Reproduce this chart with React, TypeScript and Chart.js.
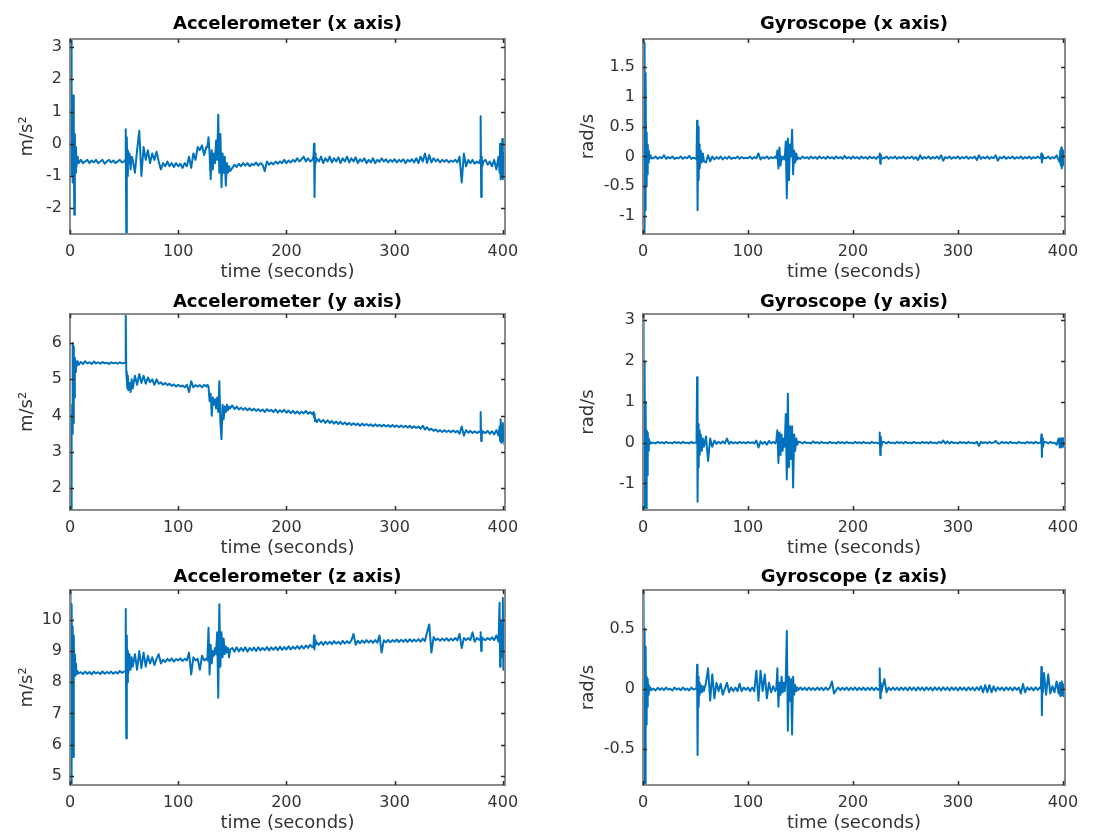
import React, { useEffect, useRef } from "react";
import { Chart, registerables } from "chart.js";

Chart.register(...registerables);

// ---------------- DATA ----------------
// time stamps (seconds) shared by all six sensor traces
const TIME = [
  0, 0.5, 1, 1.5, 2, 2.5, 3, 3.5, 4, 4.5, 5, 5.5, 6, 7, 8,
  10, 12, 14, 16, 18, 20, 22, 24, 26, 28, 30, 32, 34, 36, 38, 40, 42, 44, 46, 48, 50,
  51, 51.5, 52, 52.5, 53, 53.5, 54, 55, 56, 57, 58,
  60, 62, 64, 66, 68, 70, 72, 74, 76, 78, 80, 82, 84, 86, 88, 90, 92, 94, 96, 98, 100, 102, 104, 106, 108, 110, 112, 114, 116, 118, 120, 122, 124, 126,
  127, 128, 129, 130, 131, 132, 133, 134, 135, 136, 137, 138, 139, 140, 141, 142, 143, 144, 145, 146, 147, 148,
  150, 152, 154, 156, 158, 160, 162, 164, 166, 168, 170, 172, 174, 176, 178, 180, 182, 184, 186, 188, 190, 192, 194, 196, 198, 200, 202, 204, 206, 208, 210, 212, 214, 216, 218, 220, 222, 224,
  225, 225.5, 226, 226.5, 227, 228,
  230, 232, 234, 236, 238, 240, 242, 244, 246, 248, 250, 252, 254, 256, 258, 260, 262, 264, 266, 268, 270, 272, 274, 276, 278, 280, 282, 284, 286, 288, 290, 292, 294, 296, 298, 300, 302, 304, 306, 308, 310, 312, 314, 316, 318, 320, 322, 324, 326, 328, 330, 332, 334, 336, 338, 340, 342, 344, 346, 348, 350, 352, 354, 356, 358, 360, 362, 364, 366, 368, 370, 372, 374, 376, 378,
  379, 379.5, 380, 380.5, 381, 382,
  384, 386, 388, 390, 392, 394, 396,
  397, 397.5, 398, 398.5, 399, 399.5, 400, 400.5, 401, 401.5, 402,
];

// Accelerometer x axis (m/s^2)
const ACC_X = [
  -0.5, -1.0, 3.2, -0.8, 0.5, -1.2, 1.5, -0.2, -2.2, 0.3, -0.9, -0.1, -0.7, -0.4, -0.6,
  -0.5, -0.6, -0.55, -0.5, -0.6, -0.52, -0.58, -0.5, -0.6, -0.55, -0.5, -0.62, -0.55, -0.5, -0.58, -0.52, -0.6, -0.55, -0.5, -0.58, -0.55,
  -0.5, 0.45, -2.8, 0.2, -1.0, -0.2, -0.6, -0.3, -0.8, -0.4, -0.5,
  -0.9, -0.2, 0.4, -1.0, -0.1, -0.5, -0.2, -0.6, -0.3, -0.5, -0.25, -0.55, -0.8, -0.6, -0.7, -0.55, -0.7, -0.6, -0.72, -0.6, -0.7, -0.62, -0.75, -0.6, -0.7, -0.4, -0.75, -0.3, -0.5, -0.1, -0.2, -0.05, -0.35, -0.1,
  -0.1, 0.2, -0.3, -1.1, -0.2, -0.8, -0.3, -0.6, 0.1, -0.5, 0.9, -0.9, 0.3, -1.35, -0.3, -0.9, -0.4, -1.3, -0.6, -0.9, -0.7, -0.85,
  -0.75, -0.65, -0.72, -0.62, -0.7, -0.6, -0.68, -0.6, -0.7, -0.62, -0.66, -0.58, -0.68, -0.6, -0.65, -0.85, -0.55, -0.65, -0.58, -0.64, -0.55, -0.62, -0.55, -0.6, -0.5, -0.6, -0.52, -0.58, -0.5, -0.56, -0.45, -0.55, -0.48, -0.4, -0.55, -0.45, -0.55, -0.5,
  -0.4, 0.0, -1.65, -0.3, -0.6, -0.45,
  -0.55, -0.4, -0.6, -0.45, -0.55, -0.4, -0.58, -0.45, -0.55, -0.42,
  -0.6, -0.45, -0.55, -0.4, -0.58, -0.45, -0.55, -0.42, -0.6, -0.48,
  -0.55, -0.45, -0.6, -0.5, -0.58, -0.45, -0.6, -0.5, -0.56, -0.45,
  -0.55, -0.48, -0.58, -0.5, -0.56, -0.48, -0.58, -0.5, -0.56, -0.48,
  -0.6, -0.5, -0.55, -0.48, -0.58, -0.45, -0.6, -0.4, -0.55, -0.3,
  -0.6, -0.35, -0.58, -0.45, -0.55, -0.48, -0.58, -0.5, -0.56, -0.5,
  -0.58, -0.52, -0.56, -0.5, -0.58, -0.4, -1.2, -0.3, -0.7, -0.5,
  -0.6, -0.5, -0.62, -0.55, -0.6,
  -0.5, 0.85, -1.65, -0.4, -0.7, -0.55,
  -0.5, -0.65, -0.55, -0.7, -0.5, -0.8, -0.4,
  -0.9, 0.0, -1.1, -0.2, -1.0, 0.15, -1.1, -0.3, -0.9, -0.4, -0.7,
];

// Gyroscope x axis (rad/s)
const GYRO_X = [
  -0.3, 1.97, -1.3, 1.9, -0.9, 1.4, -0.5, 0.4, -0.3, 0.2, -0.1, 0.1, -0.05, 0.02, -0.03,
  -0.03, 0.0, -0.04, -0.01, -0.03, 0.02, -0.04, -0.01, -0.03, 0.0, -0.04, -0.02, -0.03, 0.0, -0.04, -0.01, -0.03, 0.01, -0.04, -0.02, -0.03,
  -0.05, 0.6, -0.9, 0.5, -0.4, 0.2, -0.2, 0.1, -0.1, 0.05, -0.08,
  -0.1, 0.02, -0.08, 0.0, -0.05, -0.01, -0.04, 0.0, -0.05, -0.01, -0.04, 0.0, -0.04, -0.02, -0.03, 0.0, -0.04, -0.01, -0.03, -0.02, -0.03, 0.0, -0.04, -0.01, -0.03, 0.05, -0.05, -0.01, -0.03, 0.0, -0.04, -0.01, -0.03, 0.0,
  -0.03, 0.1, -0.2, 0.15, -0.15, 0.0, -0.05, 0.0, -0.05, 0.25, -0.7, 0.3, -0.4, 0.2, 0.0, 0.45, -0.3, 0.1, -0.1, 0.05, -0.05, -0.02,
  -0.04, 0.0, -0.03, -0.01, -0.04, 0.0, -0.03, -0.01, -0.04, 0.0, -0.03, -0.01, -0.04, 0.0, -0.03, -0.01, -0.04, 0.0, -0.03, -0.01, -0.04, 0.01, -0.03, -0.01, -0.04, 0.0, -0.03, -0.01, -0.04, 0.0, -0.03, -0.01, -0.04, 0.0, -0.03, -0.01, -0.04, 0.0,
  -0.02, 0.05, -0.12, 0.03, -0.05, -0.02,
  -0.03, 0.0, -0.04, -0.01, -0.03, 0.0, -0.04, -0.01, -0.03, 0.0,
  -0.04, -0.01, -0.03, 0.0, -0.04, -0.01, -0.06, 0.02, -0.04, -0.01,
  -0.03, 0.0, -0.04, -0.01, -0.03, 0.0, -0.04, 0.02, -0.07, -0.01,
  -0.03, 0.0, -0.04, -0.01, -0.03, 0.0, -0.04, -0.01, -0.03, 0.0,
  -0.04, -0.01, -0.03, 0.0, -0.06, 0.02, -0.04, -0.01, -0.03, 0.0,
  -0.04, -0.01, -0.03, 0.02, -0.07, -0.01, -0.03, 0.0, -0.04, -0.01,
  -0.03, 0.0, -0.04, -0.01, -0.03, 0.0, -0.04, -0.01, -0.03, 0.0,
  -0.04, -0.01, -0.03, 0.0, -0.03,
  -0.02, 0.05, -0.1, 0.02, -0.04, -0.02,
  -0.03, 0.0, -0.04, -0.01, -0.03, 0.02, -0.06,
  -0.1, 0.1, -0.15, 0.15, -0.2, 0.1, -0.15, 0.05, -0.1, 0.1, -0.05,
];

// Accelerometer y axis (m/s^2)
const ACC_Y = [
  4.3, 3.6, 1.4, 4.0, 3.5, 6.0, 3.8, 5.9, 4.5, 5.6, 5.2, 5.5, 5.35, 5.5, 5.4,
  5.48, 5.42, 5.5, 5.44, 5.47, 5.42, 5.49, 5.44, 5.47, 5.43, 5.48, 5.44, 5.46, 5.42, 5.47, 5.44, 5.46, 5.43, 5.47, 5.44, 5.45,
  5.45, 6.8, 5.2, 5.0, 4.75, 5.1, 4.7, 4.9, 4.65, 5.0, 4.75,
  5.1, 4.85, 5.15, 4.9, 5.1, 4.88, 5.05, 4.92, 5.0, 4.85, 5.0, 4.88, 4.92, 4.85, 4.9, 4.84, 4.88, 4.82, 4.86, 4.8, 4.85, 4.8, 4.83, 4.78, 4.85, 4.65, 4.95, 4.78, 4.84, 4.8, 4.84, 4.78, 4.85, 4.8,
  4.85, 4.8, 4.4, 4.6, 4.0, 4.5, 4.3, 4.45, 4.2, 4.5, 4.1, 4.95, 3.8, 3.35, 4.3, 3.9, 4.25, 4.1, 4.3, 4.15, 4.25, 4.2,
  4.28, 4.18, 4.25, 4.17, 4.22, 4.16, 4.21, 4.15, 4.2, 4.14, 4.19, 4.13, 4.18, 4.12, 4.17, 4.1, 4.18, 4.12, 4.16, 4.1, 4.17, 4.08, 4.15, 4.1, 4.16, 4.08, 4.14, 4.07, 4.13, 4.06, 4.12, 4.05, 4.11, 4.06, 4.13, 4.05, 4.1, 4.04,
  4.1, 3.95, 4.05, 3.85, 3.9, 3.82,
  3.9, 3.82, 3.88, 3.8, 3.87, 3.8, 3.85, 3.78, 3.84, 3.77,
  3.83, 3.76, 3.81, 3.75, 3.8, 3.74, 3.79, 3.74, 3.78, 3.72,
  3.78, 3.73, 3.77, 3.72, 3.76, 3.71, 3.76, 3.71, 3.75, 3.7,
  3.75, 3.7, 3.74, 3.69, 3.74, 3.69, 3.73, 3.68, 3.73, 3.68,
  3.72, 3.67, 3.72, 3.66, 3.71, 3.66, 3.7, 3.64, 3.72, 3.62,
  3.68, 3.6, 3.64, 3.58, 3.62, 3.56, 3.6, 3.55, 3.6, 3.55,
  3.59, 3.54, 3.59, 3.54, 3.58, 3.5, 3.7, 3.45, 3.6, 3.53,
  3.58, 3.52, 3.57, 3.52, 3.56,
  3.55, 4.1, 3.3, 3.6, 3.5, 3.56,
  3.52, 3.58, 3.5, 3.57, 3.48, 3.6, 3.45,
  3.7, 3.3, 3.9, 3.25, 3.75, 3.35, 3.8, 3.3, 3.6, 3.2, 3.45,
];

// Gyroscope y axis (rad/s)
const GYRO_Y = [
  0.1, 3.15, -1.65, 2.0, -0.8, 1.0, -1.65, 0.3, -0.8, 0.25, -0.2, 0.1, -0.05, 0.02, -0.02,
  0.0, -0.02, 0.02, -0.01, 0.01, -0.02, 0.02, -0.01, 0.0, -0.02, 0.02, -0.01, 0.01, -0.02, 0.02, -0.01, 0.0, -0.02, 0.02, -0.01, 0.0,
  0.0, 1.6, -1.45, 0.45, -0.6, 0.3, -0.3, 0.2, -0.2, 0.1, -0.1,
  0.15, -0.45, 0.1, -0.1, 0.05, -0.03, 0.02, -0.02, 0.03, -0.02, 0.1, -0.03, 0.02, -0.02, 0.01, -0.02, 0.02, -0.01, 0.01, -0.02, 0.02, -0.01, 0.01, -0.02, 0.05, -0.12, 0.03, -0.03, 0.02, -0.05, 0.04, -0.02, 0.02, -0.02,
  0.05, 0.3, -0.5, 0.25, -0.3, 0.2, -0.2, 0.1, -0.1, 0.7, -0.9, 1.2, -0.6, 0.4, -0.4, 0.4, -1.1, 0.2, -0.2, 0.1, -0.05, 0.02,
  0.01, -0.02, 0.02, -0.01, 0.0, -0.02, 0.03, -0.01, 0.01, -0.02, 0.02, -0.01, 0.0, -0.02, 0.02, -0.01, 0.0, -0.02, 0.02, -0.01, 0.01, -0.02, 0.02, -0.01, 0.0, -0.02, 0.02, -0.01, 0.01, -0.02, 0.02, -0.01, 0.0, -0.02, 0.02, -0.01, 0.0, -0.02,
  0.0, 0.25, -0.3, 0.15, -0.1, 0.02,
  0.01, -0.02, 0.02, -0.01, 0.0, -0.02, 0.02, -0.01, 0.01, -0.02,
  0.02, -0.01, 0.0, -0.02, 0.02, -0.01, 0.0, -0.02, 0.02, -0.01,
  0.01, -0.02, 0.02, -0.01, 0.0, -0.02, 0.02, -0.01, 0.05, -0.02,
  0.03, -0.02, 0.02, -0.01, 0.0, -0.02, 0.02, -0.01, 0.01, -0.02,
  0.02, -0.01, 0.0, -0.02, 0.02, -0.08, 0.02, -0.01, 0.01, -0.02,
  0.02, -0.01, 0.0, 0.04, -0.02, -0.02, 0.02, -0.01, 0.01, -0.02,
  0.02, -0.01, 0.0, -0.02, 0.02, -0.01, 0.0, -0.02, 0.02, -0.01,
  0.01, -0.02, 0.02, -0.01, 0.0,
  0.0, 0.2, -0.35, 0.1, -0.1, 0.02,
  0.01, -0.02, 0.02, -0.01, 0.0, -0.05, 0.1,
  -0.12, 0.1, -0.1, 0.08, -0.12, 0.1, -0.08, 0.1, -0.1, 0.05, -0.05,
];

// Accelerometer z axis (m/s^2)
const ACC_Z = [
  9.2, 10.9, 4.7, 10.5, 8.0, 9.8, 5.6, 9.5, 8.2, 8.9, 8.3, 8.6, 8.25, 8.35, 8.28,
  8.32, 8.26, 8.34, 8.27, 8.33, 8.25, 8.34, 8.28, 8.32, 8.26, 8.35, 8.27, 8.33, 8.28, 8.34, 8.27, 8.33, 8.28, 8.36, 8.3, 8.34,
  8.35, 10.35, 6.2, 9.5, 8.0, 9.0, 8.3, 8.9, 8.4, 8.8, 8.5,
  8.9, 8.4, 9.0, 8.45, 8.95, 8.5, 8.85, 8.6, 8.8, 8.55, 8.75, 8.9, 8.6, 8.72, 8.65, 8.75, 8.68, 8.76, 8.66, 8.74, 8.7, 8.76, 8.68, 8.75, 8.7, 8.95, 8.25, 8.8, 8.7, 8.75, 8.4, 8.85, 8.7, 8.76,
  8.7, 9.75, 8.25, 9.2, 8.6, 9.0, 8.85, 9.1, 8.9, 9.6, 7.5, 10.5, 8.5, 9.6, 8.8, 9.4, 8.9, 9.15, 8.95, 9.1, 8.8, 9.05,
  9.1, 8.98, 9.12, 8.99, 9.1, 9.0, 9.12, 8.98, 9.1, 9.02, 9.11, 9.0, 9.12, 9.02, 9.1, 9.03, 9.13, 9.02, 9.12, 9.04, 9.13, 9.03, 9.14, 9.04, 9.13, 9.05, 9.15, 9.05, 9.14, 9.07, 9.16, 9.07, 9.17, 9.08, 9.18, 9.1, 9.2, 9.12,
  9.15, 9.5, 9.05, 9.35, 9.2, 9.28,
  9.2, 9.3, 9.2, 9.3, 9.22, 9.3, 9.22, 9.32, 9.24, 9.3,
  9.22, 9.33, 9.24, 9.32, 9.25, 9.34, 9.55, 9.2, 9.33, 9.25,
  9.34, 9.26, 9.35, 9.27, 9.34, 9.26, 9.35, 9.27, 9.5, 8.95,
  9.35, 9.28, 9.36, 9.28, 9.35, 9.3, 9.37, 9.29, 9.36, 9.3,
  9.37, 9.29, 9.38, 9.3, 9.37, 9.31, 9.38, 9.3, 9.4, 9.32,
  9.6, 9.85, 8.95, 9.45, 9.35, 9.4, 9.33, 9.4, 9.34, 9.41,
  9.33, 9.4, 9.34, 9.42, 9.34, 9.55, 9.1, 9.42, 9.35, 9.42,
  9.35, 9.6, 9.3, 9.42, 9.36,
  9.4, 9.6, 9.0, 9.45, 9.35, 9.4,
  9.35, 9.42, 9.36, 9.44, 9.35, 9.5, 9.3,
  10.55, 8.5, 10.0, 8.8, 9.8, 9.0, 10.7, 8.4, 9.6, 9.1, 9.4,
];

// Gyroscope z axis (rad/s)
const GYRO_Z = [
  0.05, 0.82, -0.8, 0.5, -0.8, 0.35, -0.3, 0.1, -0.15, 0.08, -0.05, 0.03, -0.02, 0.01, -0.01,
  0.0, -0.015, 0.008, -0.01, 0.005, -0.012, 0.01, -0.008, 0.0, -0.015, 0.01, -0.008, 0.004, -0.012, 0.01, -0.01, 0.002, -0.014, 0.01, -0.008, 0.0,
  0.0, 0.2, -0.55, 0.1, -0.15, 0.05, -0.05, 0.03, -0.03, 0.02, -0.02,
  0.05, 0.17, -0.1, 0.12, -0.08, 0.05, -0.02, 0.04, -0.05, 0.0, 0.05, -0.03, 0.01, -0.02, 0.01, -0.02, 0.04, -0.02, 0.01, -0.01, 0.01, -0.02, 0.01, -0.02, 0.15, -0.1, 0.15, -0.02, 0.12, -0.08, 0.05, -0.03, 0.02, -0.02,
  0.0, 0.17, -0.15, 0.05, -0.05, 0.1, -0.03, 0.05, -0.02, 0.08, 0.48, -0.35, 0.1, -0.1, 0.08, -0.38, 0.1, -0.05, 0.03, -0.02, 0.01, -0.01,
  0.01, -0.01, 0.008, -0.012, 0.01, -0.01, 0.006, -0.012, 0.01, -0.01, 0.008, -0.012, 0.01, -0.01, 0.008, 0.06, -0.04, -0.01, 0.01, -0.012, 0.008, -0.01, 0.01, -0.012, 0.008, -0.01, 0.01, -0.012, 0.008, -0.01, 0.01, -0.012, 0.008, -0.01, 0.01, -0.012, 0.008, -0.01,
  0.0, 0.17, -0.08, 0.05, -0.03, 0.01,
  0.08, -0.03, 0.01, -0.012, 0.01, -0.01, 0.008, -0.012, 0.01, -0.01,
  0.01, -0.015, 0.012, -0.01, 0.01, -0.015, 0.012, -0.01, 0.01, -0.015,
  0.012, -0.01, 0.01, -0.015, 0.012, -0.01, 0.01, -0.015, 0.012, -0.01,
  0.01, -0.015, 0.012, -0.01, 0.01, -0.015, 0.012, -0.01, 0.01, -0.015,
  0.012, -0.01, 0.01, -0.015, 0.012, -0.01, 0.02, -0.03, 0.03, -0.03,
  0.03, -0.03, 0.02, -0.02, 0.012, -0.01, 0.01, -0.015, 0.012, -0.01,
  0.01, -0.015, 0.012, -0.01, 0.01, -0.04, 0.04, -0.03, 0.012, -0.01,
  0.01, -0.015, 0.012, -0.01, 0.01,
  0.0, 0.18, -0.22, 0.05, -0.03, 0.13,
  -0.05, 0.12, -0.04, 0.02, -0.03, 0.06, -0.04,
  0.05, -0.06, 0.04, -0.05, 0.06, -0.05, 0.04, -0.06, 0.03, -0.04, 0.01,
];

// tick labels
const X_TICKS = [0, 100, 200, 300, 400];
const ACC_X_TICKS = [-2, -1, 0, 1, 2, 3];
const GYRO_X_TICKS = [-1, -0.5, 0, 0.5, 1, 1.5];
const ACC_Y_TICKS = [2, 3, 4, 5, 6];
const GYRO_Y_TICKS = [-1, 0, 1, 2, 3];
const ACC_Z_TICKS = [5, 6, 7, 8, 9, 10];
const GYRO_Z_TICKS = [-0.5, 0, 0.5];

// axis limits [min, max]
const X_RANGE = [0, 402];
const ACC_X_RANGE = [-2.8, 3.25];
const GYRO_X_RANGE = [-1.3, 1.97];
const ACC_Y_RANGE = [1.4, 6.8];
const GYRO_Y_RANGE = [-1.65, 3.15];
const ACC_Z_RANGE = [4.7, 10.96];
const GYRO_Z_RANGE = [-0.8, 0.82];

// ---------------- LAYOUT / STYLE ----------------
const PL = 80;
const PT = 45;
const PR = 22;
const PB = 52;
const FONT = "'DejaVu Sans', 'Liberation Sans', sans-serif";
const LINE_COLOR = "#0072BD";
const TEXT_COLOR = "#333333";

type PanelCfg = {
  title: string;
  ylabel: string;
  values: number[];
  range: number[];
  yTicks: number[];
  box: { l: number; t: number; r: number; b: number };
  titleGap: number;
  ylabelGap: number;
};

const LEFT = { l: 70, r: 505 };
const RIGHT = { l: 643, r: 1065 };
const ROWS = [
  { t: 39, b: 234, titleGap: 10 },
  { t: 314, b: 510, titleGap: 7 },
  { t: 590, b: 785, titleGap: 8 },
];

const PANELS: PanelCfg[] = [
  { title: "Accelerometer (x axis)", ylabel: "m/s²", values: ACC_X, range: ACC_X_RANGE, yTicks: ACC_X_TICKS, box: { ...LEFT, t: ROWS[0].t, b: ROWS[0].b }, titleGap: ROWS[0].titleGap, ylabelGap: 43 },
  { title: "Gyroscope (x axis)", ylabel: "rad/s", values: GYRO_X, range: GYRO_X_RANGE, yTicks: GYRO_X_TICKS, box: { ...RIGHT, t: ROWS[0].t, b: ROWS[0].b }, titleGap: ROWS[0].titleGap, ylabelGap: 55 },
  { title: "Accelerometer (y axis)", ylabel: "m/s²", values: ACC_Y, range: ACC_Y_RANGE, yTicks: ACC_Y_TICKS, box: { ...LEFT, t: ROWS[1].t, b: ROWS[1].b }, titleGap: ROWS[1].titleGap, ylabelGap: 43 },
  { title: "Gyroscope (y axis)", ylabel: "rad/s", values: GYRO_Y, range: GYRO_Y_RANGE, yTicks: GYRO_Y_TICKS, box: { ...RIGHT, t: ROWS[1].t, b: ROWS[1].b }, titleGap: ROWS[1].titleGap, ylabelGap: 55 },
  { title: "Accelerometer (z axis)", ylabel: "m/s²", values: ACC_Z, range: ACC_Z_RANGE, yTicks: ACC_Z_TICKS, box: { ...LEFT, t: ROWS[2].t, b: ROWS[2].b }, titleGap: ROWS[2].titleGap, ylabelGap: 43 },
  { title: "Gyroscope (z axis)", ylabel: "rad/s", values: GYRO_Z, range: GYRO_Z_RANGE, yTicks: GYRO_Z_TICKS, box: { ...RIGHT, t: ROWS[2].t, b: ROWS[2].b }, titleGap: ROWS[2].titleGap, ylabelGap: 55 },
];

function makeFramePlugin(cfg: PanelCfg) {
  return {
    id: "matlabFrame",
    afterDraw(chart: any) {
      const { ctx, chartArea } = chart;
      const { left, top, right, bottom } = chartArea;
      const xs = chart.scales.x;
      const ys = chart.scales.y;
      ctx.save();
      // box
      ctx.strokeStyle = "#8a8a8a";
      ctx.lineWidth = 2;
      ctx.strokeRect(left, top, right - left, bottom - top);
      // inward ticks on all four sides
      ctx.strokeStyle = "#2a2a2a";
      ctx.lineWidth = 1.5;
      const tl = 4;
      ctx.beginPath();
      for (const v of X_TICKS) {
        const px = Math.round(xs.getPixelForValue(v)) + 0.5;
        ctx.moveTo(px, bottom);
        ctx.lineTo(px, bottom - tl);
        ctx.moveTo(px, top);
        ctx.lineTo(px, top + tl);
      }
      for (const v of cfg.yTicks) {
        const py = Math.round(ys.getPixelForValue(v)) + 0.5;
        ctx.moveTo(left, py);
        ctx.lineTo(left + tl, py);
        ctx.moveTo(right, py);
        ctx.lineTo(right - tl, py);
      }
      ctx.stroke();
      // title
      ctx.fillStyle = "#000000";
      ctx.font = `bold 18px ${FONT}`;
      ctx.textAlign = "center";
      ctx.textBaseline = "alphabetic";
      ctx.fillText(cfg.title, (left + right) / 2, top - cfg.titleGap);
      // x label
      ctx.fillStyle = TEXT_COLOR;
      ctx.font = `18px ${FONT}`;
      ctx.fillText("time (seconds)", (left + right) / 2, bottom + 43);
      // y label
      ctx.translate(left - cfg.ylabelGap, (top + bottom) / 2);
      ctx.rotate(-Math.PI / 2);
      ctx.textBaseline = "middle";
      ctx.fillText(cfg.ylabel, 0, 0);
      ctx.restore();
    },
  };
}

function Panel({ cfg }: { cfg: PanelCfg }) {
  const ref = useRef<HTMLCanvasElement>(null);
  const W = cfg.box.r - cfg.box.l + PL + PR;
  const H = cfg.box.b - cfg.box.t + PT + PB;

  useEffect(() => {
    if (!ref.current) return;
    const points = TIME.map((t, i) => ({ x: t, y: cfg.values[i] })).filter((p) => p.y !== undefined);
    const tickFont = { family: FONT, size: 16 };
    const chart = new Chart(ref.current, {
      type: "line",
      data: {
        datasets: [
          {
            data: points,
            borderColor: LINE_COLOR,
            borderWidth: 2,
            pointRadius: 0,
            fill: false,
            tension: 0,
            borderJoinStyle: "round",
          },
        ],
      },
      options: {
        responsive: false,
        animation: false,
        devicePixelRatio: 1,
        events: [],
        layout: { padding: { left: 0, top: PT, right: PR, bottom: 0 } },
        plugins: {
          legend: { display: false },
          tooltip: { enabled: false },
          title: { display: false },
        },
        scales: {
          x: {
            type: "linear",
            min: X_RANGE[0],
            max: X_RANGE[1],
            afterBuildTicks: (s: any) => {
              s.ticks = X_TICKS.map((v) => ({ value: v }));
            },
            afterFit: (s: any) => {
              s.height = PB;
            },
            grid: { display: false, drawTicks: false },
            border: { display: false },
            ticks: {
              autoSkip: false,
              maxRotation: 0,
              minRotation: 0,
              padding: 8,
              color: TEXT_COLOR,
              font: tickFont,
              callback: (v: any) => String(v),
            },
          },
          y: {
            type: "linear",
            min: cfg.range[0],
            max: cfg.range[1],
            afterBuildTicks: (s: any) => {
              s.ticks = cfg.yTicks.map((v) => ({ value: v }));
            },
            afterFit: (s: any) => {
              s.width = PL;
            },
            grid: { display: false, drawTicks: false },
            border: { display: false },
            ticks: {
              autoSkip: false,
              padding: 8,
              color: TEXT_COLOR,
              font: tickFont,
              callback: (v: any) => String(v),
            },
          },
        },
      } as any,
      plugins: [makeFramePlugin(cfg)],
    });
    return () => chart.destroy();
  }, [cfg]);

  return (
    <canvas
      ref={ref}
      width={W}
      height={H}
      style={{
        position: "absolute",
        left: cfg.box.l - PL,
        top: cfg.box.t - PT,
        width: W,
        height: H,
      }}
    />
  );
}

export default function App() {
  return (
    <div
      style={{
        position: "absolute",
        left: 0,
        top: 0,
        width: 1099,
        height: 832,
        background: "#ffffff",
        overflow: "hidden",
      }}
    >
      {PANELS.map((p, i) => (
        <Panel key={i} cfg={p} />
      ))}
    </div>
  );
}
